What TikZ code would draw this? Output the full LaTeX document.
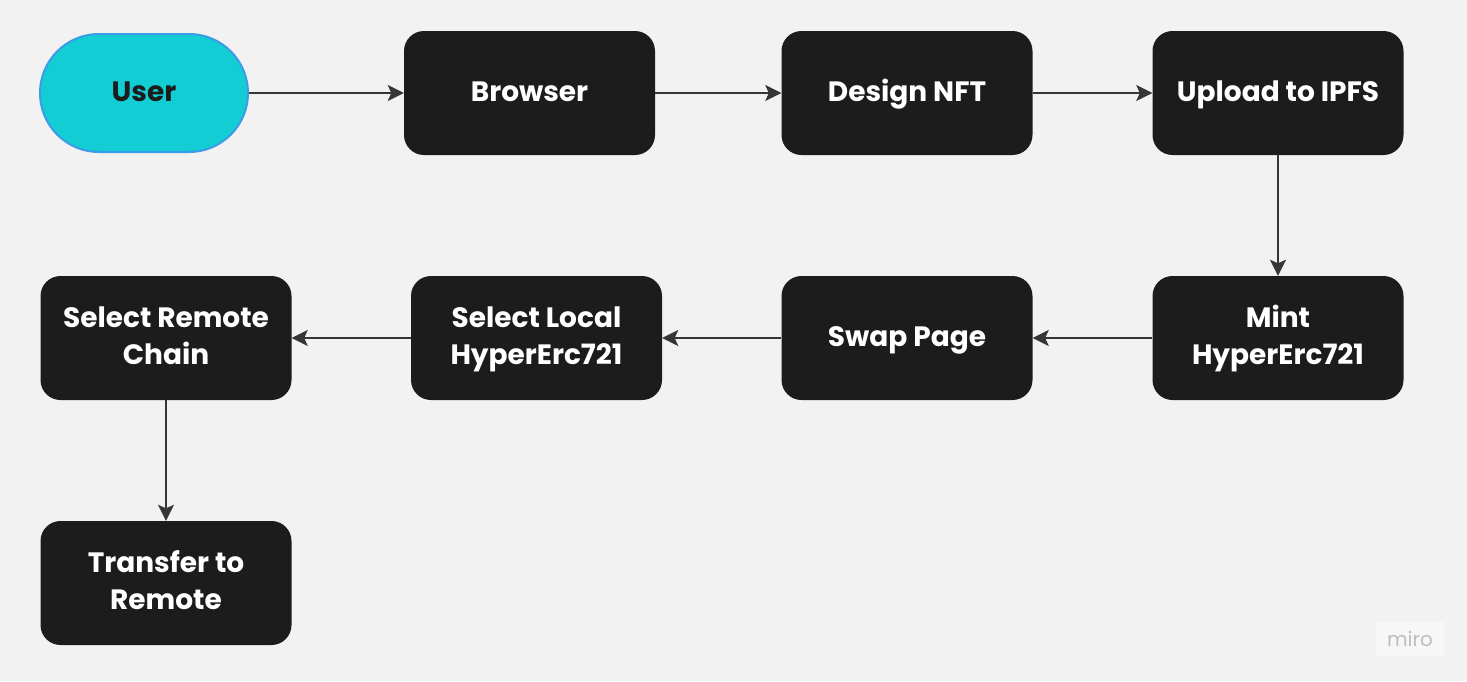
\documentclass[tikz,border=0pt]{standalone}
\usepackage{fontspec}
\setmainfont{Poppins}
\usetikzlibrary{arrows.meta}
\definecolor{bgc}{HTML}{F2F2F2}
\definecolor{boxc}{HTML}{1C1C1C}
\definecolor{cyanc}{HTML}{12CDD4}
\definecolor{bluec}{HTML}{3A9BE8}
\definecolor{linec}{HTML}{363636}
\definecolor{miroc}{HTML}{BDBDC3}
\newcommand{\lnstrut}{\rule[-8pt]{0pt}{32pt}}
\tikzset{
  stepbox/.style={draw=none, fill=boxc, rounded corners=20pt, minimum width=251pt, minimum height=124pt,
    text=white, align=center, font=\fontsize{28}{36.5}\selectfont\bfseries, inner sep=0pt},
  userbox/.style={draw=bluec, line width=2pt, fill=cyanc, rounded corners=59pt, minimum width=208pt, minimum height=118pt,
    text=boxc, font=\fontsize{28}{36.5}\selectfont\bfseries, inner sep=0pt},
  conn/.style={draw=linec, line width=2.2pt, -{Stealth[length=16pt,width=16pt,inset=3.5pt]}}
}
\begin{document}
\begin{tikzpicture}[x=1pt,y=-1pt]
\fill[bgc] (0,0) rectangle (1467,681);
\useasboundingbox (0,0) rectangle (1467,681);
\node[userbox] (user) at (144,93) {\lnstrut User};
\node[stepbox] (browser) at (529.5,93) {\lnstrut Browser};
\node[stepbox] (design) at (907,93) {\lnstrut Design NFT};
\node[stepbox] (upload) at (1278,93) {\lnstrut Upload to IPFS};
\node[stepbox] (mint) at (1278,338) {\lnstrut Mint\\\lnstrut HyperErc721};
\node[stepbox] (swap) at (907,338) {\lnstrut Swap Page};
\node[stepbox] (local) at (536.5,338) {\lnstrut Select Local\\\lnstrut HyperErc721};
\node[stepbox] (remote) at (166,338) {\lnstrut Select Remote\\\lnstrut Chain};
\node[stepbox] (transfer) at (166,583) {\lnstrut Transfer to\\\lnstrut Remote};
\draw[conn] (user) -- (browser);
\draw[conn] (browser) -- (design);
\draw[conn] (design) -- (upload);
\draw[conn] (upload) -- (mint);
\draw[conn] (mint) -- (swap);
\draw[conn] (swap) -- (local);
\draw[conn] (local) -- (remote);
\draw[conn] (remote) -- (transfer);
\node[fill=white, fill opacity=0.4, text opacity=1, text=miroc, minimum width=68pt, minimum height=34pt, inner sep=0pt,
  font=\fontsize{20}{20}\selectfont] (miro) at (1410,639) {miro};
\end{tikzpicture}
\end{document}
